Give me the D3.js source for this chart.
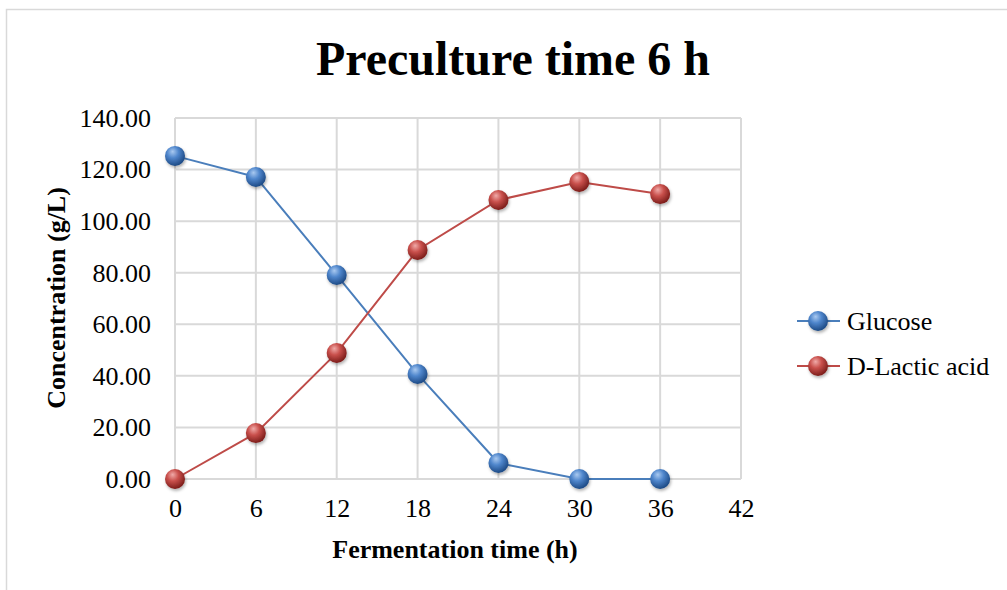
<!DOCTYPE html>
<html>
<head>
<meta charset="utf-8">
<script src="https://cdn.jsdelivr.net/npm/d3@7"></script>
<style>
  body { margin: 0; background: #fff; }
  text { font-family: "Liberation Serif", "Times New Roman", serif; fill: #000; }
</style>
</head>
<body>
<div id="chart"></div>
<script>
// chart data
const hours = [0, 6, 12, 18, 24, 30, 36]
const glucose = [125.3, 117.1, 79.1, 40.7, 6.2, 0, 0]
const lactic = [0, 17.8, 48.9, 88.8, 108.2, 115.2, 110.5]
const seriesNames = ['Glucose', 'D-Lactic acid']
const xTicks = [0, 6, 12, 18, 24, 30, 36, 42]
const yTicks = [0, 20, 40, 60, 80, 100, 120, 140]

var width = 1007
var height = 590

const svg = d3.select('#chart')
  .append('svg')
  .attr('width', width)
  .attr('height', height)

// gradients for the shiny markers
const defs = svg.append('defs')
const grads = [
  { id: 'gBlue', light: '#a9c9f0', mid: '#4f86cc', dark: '#1d4a85' },
  { id: 'gRed', light: '#f0aaa8', mid: '#c9504c', dark: '#7c1d1a' }
]
grads.forEach(g => {
  const rg = defs.append('radialGradient')
    .attr('id', g.id)
    .attr('cx', '40%').attr('cy', '35%').attr('r', '65%')
    .attr('fx', '38%').attr('fy', '28%')
  rg.append('stop').attr('offset', '0%').attr('stop-color', g.light)
  rg.append('stop').attr('offset', '45%').attr('stop-color', g.mid)
  rg.append('stop').attr('offset', '100%').attr('stop-color', g.dark)
})
defs.append('filter').attr('id', 'shadow')
  .attr('x', '-50%').attr('y', '-50%').attr('width', '200%').attr('height', '200%')
  .append('feDropShadow')
  .attr('dx', 1).attr('dy', 2).attr('stdDeviation', 1.5)
  .attr('flood-color', '#000').attr('flood-opacity', 0.3)

// outer border
svg.append('rect')
  .attr('x', 6.5).attr('y', 9.5)
  .attr('width', 1010).attr('height', 600)
  .attr('fill', 'none')
  .attr('stroke', '#d9d9d9')
  .attr('stroke-width', 1.5)

// scales
const xScale = d3.scaleLinear().domain([0, 42]).range([175, 741])
const yScale = d3.scaleLinear().domain([0, 140]).range([479, 118])

// grid
svg.append('g')
  .selectAll('line')
  .data(yTicks)
  .enter()
  .append('line')
  .attr('x1', xScale(0)).attr('x2', xScale(42))
  .attr('y1', d => yScale(d)).attr('y2', d => yScale(d))
  .attr('stroke', '#d9d9d9').attr('stroke-width', 2)

svg.append('g')
  .selectAll('line')
  .data(xTicks)
  .enter()
  .append('line')
  .attr('x1', d => xScale(d)).attr('x2', d => xScale(d))
  .attr('y1', yScale(0)).attr('y2', yScale(140))
  .attr('stroke', '#d9d9d9').attr('stroke-width', 2)

// axes (labels only, Excel style)
const xAxis = d3.axisBottom(xScale).tickValues(xTicks).tickSize(0).tickPadding(20)
const yAxis = d3.axisLeft(yScale).tickValues(yTicks).tickSize(0).tickPadding(24)
  .tickFormat(d3.format('.2f'))

svg.append('g')
  .attr('transform', `translate(0, ${yScale(0)})`)
  .call(xAxis)
  .call(g => g.select('.domain').remove())
  .selectAll('text')
  .style('font-family', '"Liberation Serif", serif')
  .attr('font-size', 26)
  .attr('fill', '#000')

svg.append('g')
  .attr('transform', `translate(${xScale(0)}, 0)`)
  .call(yAxis)
  .call(g => g.select('.domain').remove())
  .selectAll('text')
  .style('font-family', '"Liberation Serif", serif')
  .attr('font-size', 26)
  .attr('fill', '#000')

// title and axis titles
svg.append('text')
  .text('Preculture time 6 h')
  .attr('x', 513).attr('y', 75)
  .attr('text-anchor', 'middle')
  .attr('font-size', 48)
  .attr('font-weight', 'bold')

svg.append('text')
  .text('Fermentation time (h)')
  .attr('x', 455).attr('y', 558)
  .attr('text-anchor', 'middle')
  .attr('font-size', 26)
  .attr('font-weight', 'bold')

svg.append('text')
  .text('Concentration (g/L)')
  .attr('transform', 'translate(65, 298) rotate(-90)')
  .attr('text-anchor', 'middle')
  .attr('font-size', 26)
  .attr('font-weight', 'bold')

// series
const series = [
  { name: seriesNames[0], values: glucose, color: '#4a7ebb', grad: 'gBlue' },
  { name: seriesNames[1], values: lactic, color: '#be4b48', grad: 'gRed' }
]

const line = d3.line()
  .x((d, i) => xScale(hours[i]))
  .y(d => yScale(d))

series.forEach(s => {
  svg.append('path')
    .datum(s.values)
    .attr('d', line)
    .attr('fill', 'none')
    .attr('stroke', s.color)
    .attr('stroke-width', 2)

  svg.append('g')
    .selectAll('circle')
    .data(s.values)
    .enter()
    .append('circle')
    .attr('cx', (d, i) => xScale(hours[i]))
    .attr('cy', d => yScale(d))
    .attr('r', 10)
    .attr('fill', `url(#${s.grad})`)
    .attr('filter', 'url(#shadow)')
})

// legend
const legend = svg.append('g').attr('transform', 'translate(797, 321)')
series.forEach((s, i) => {
  const row = legend.append('g').attr('transform', `translate(0, ${i * 45})`)
  row.append('line')
    .attr('x1', 0).attr('x2', 43).attr('y1', 0).attr('y2', 0)
    .attr('stroke', s.color).attr('stroke-width', 2)
  row.append('circle')
    .attr('cx', 21).attr('cy', 0).attr('r', 10)
    .attr('fill', `url(#${s.grad})`)
    .attr('filter', 'url(#shadow)')
  row.append('text')
    .text(s.name)
    .attr('x', 50).attr('y', 9)
    .attr('font-size', 26)
})
</script>
</body>
</html>
